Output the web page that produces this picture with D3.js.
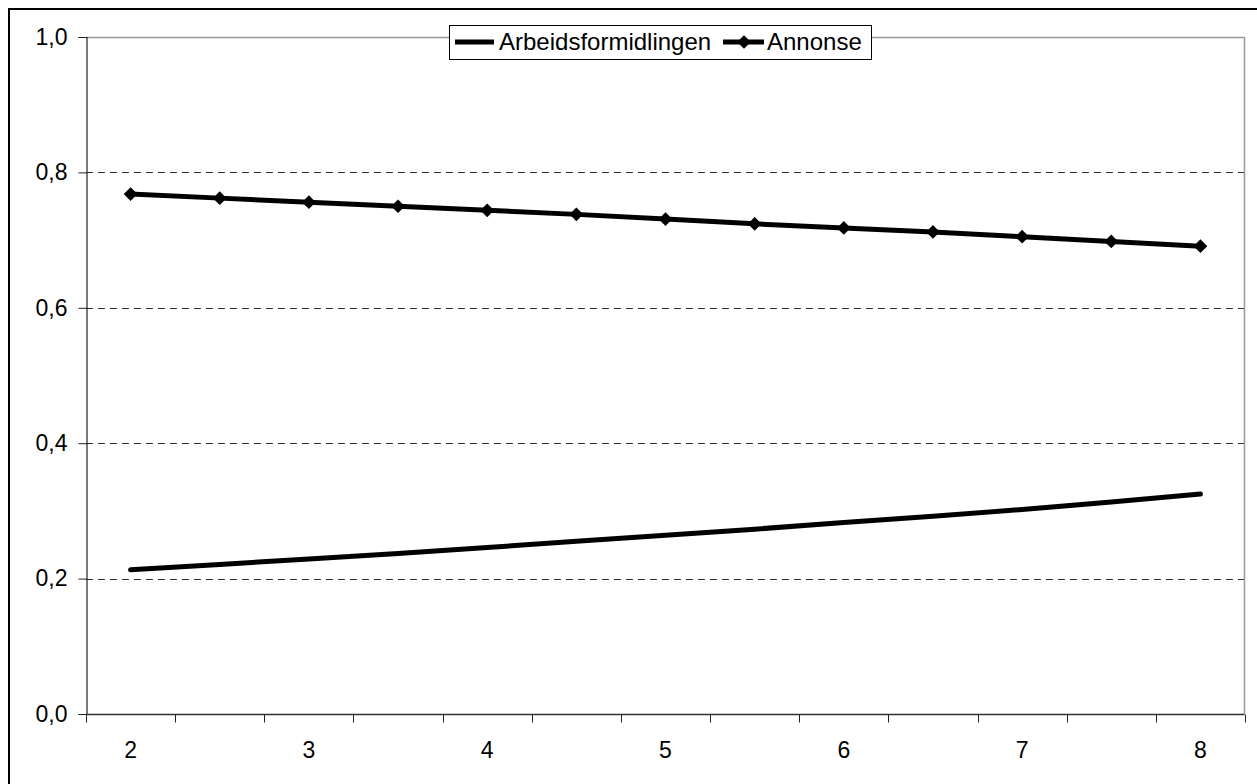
<!DOCTYPE html>
<html>
<head>
<meta charset="utf-8">
<script src="https://cdn.jsdelivr.net/npm/d3@7"></script>
<style>
  body { margin: 0; background: #fff; }
  svg { display: block; font-family: Arial, "Liberation Sans", sans-serif; }
</style>
</head>
<body>
<div id="chart-container"></div>
<script>
// values
const categories = [2, 2.5, 3, 3.5, 4, 4.5, 5, 5.5, 6, 6.5, 7, 7.5, 8];
const arbeidsformidlingen = [0.213, 0.221, 0.229, 0.237, 0.246, 0.255, 0.264, 0.273, 0.283, 0.292, 0.302, 0.313, 0.325];
const annonse = [0.768, 0.762, 0.756, 0.750, 0.744, 0.738, 0.731, 0.724, 0.718, 0.712, 0.705, 0.698, 0.691];
const yTicks = [0, 0.2, 0.4, 0.6, 0.8, 1.0];
const xLabels = [2, 3, 4, 5, 6, 7, 8];
const seriesNames = ["Arbeidsformidlingen", "Annonse"];

const width = 1257, height = 784;
const margin = { top: 37, left: 86, right: 12, bottom: 70 };
const fontSize = 23;
const legendFont = 24;

const svg = d3.select("#chart-container").append("svg")
  .attr("width", width)
  .attr("height", height);

// outer chart frame (right/bottom edges fall outside the picture)
svg.append("rect")
  .attr("x", 9).attr("y", 9)
  .attr("width", width + 10).attr("height", height + 10)
  .attr("fill", "#fff")
  .attr("stroke", "#000")
  .attr("stroke-width", 2);

const x = d3.scaleBand()
  .domain(categories)
  .range([margin.left, width - margin.right])
  .padding(0);

const y = d3.scaleLinear()
  .domain([0, 1])
  .range([height - margin.bottom, margin.top]);

const fmt = d => d3.format(".1f")(d).replace(".", ",");

// grid lines
svg.append("g")
  .selectAll("line")
  .data(yTicks.filter(d => d > 0 && d < 1))
  .enter().append("line")
  .attr("x1", margin.left).attr("x2", width - margin.right)
  .attr("y1", d => Math.round(y(d)) + 0.5).attr("y2", d => Math.round(y(d)) + 0.5)
  .attr("stroke", "#333")
  .attr("stroke-dasharray", "7,5");

// plot area top/right border
const plotTop = Math.round(y(1)) + 0.5;
const plotRight = Math.round(width - margin.right) - 0.5;
svg.append("path")
  .attr("d", `M${margin.left},${plotTop}H${plotRight}V${y(0)}`)
  .attr("fill", "none")
  .attr("stroke", "#999")
  .attr("stroke-width", 1.5);

// y axis
const yAxis = svg.append("g")
  .attr("transform", `translate(${margin.left + 0.5},0)`)
  .call(d3.axisLeft(y).tickValues(yTicks).tickFormat(fmt).tickSize(8).tickPadding(11));
yAxis.select(".domain").attr("stroke", "#222").attr("stroke-width", 1.2);
yAxis.selectAll(".tick line").attr("stroke", "#222");
yAxis.selectAll("text")
  .attr("font-size", fontSize)
  .attr("font-family", "Arial, 'Liberation Sans', sans-serif")
  .attr("fill", "#000");

// x axis: ticks at category boundaries, labels at whole numbers
const xBase = Math.round(y(0)) + 0.5;
const gx = svg.append("g");
gx.append("line")
  .attr("x1", margin.left).attr("x2", plotRight)
  .attr("y1", xBase).attr("y2", xBase)
  .attr("stroke", "#333").attr("stroke-width", 1.5);
const bounds = categories.map(c => x(c)).concat([x.range()[1]]);
gx.selectAll(".xtick")
  .data(bounds)
  .enter().append("line")
  .attr("class", "xtick")
  .attr("x1", d => Math.round(d) + 0.5).attr("x2", d => Math.round(d) + 0.5)
  .attr("y1", xBase).attr("y2", xBase + 8)
  .attr("stroke", "#222");
gx.selectAll("text")
  .data(xLabels)
  .enter().append("text")
  .attr("x", d => x(d) + x.bandwidth() / 2)
  .attr("y", 758)
  .attr("text-anchor", "middle")
  .attr("font-size", fontSize)
  .attr("fill", "#000")
  .text(d => d);

// lines
const line = d3.line()
  .x((d, i) => x(categories[i]) + x.bandwidth() / 2)
  .y(d => y(d));

svg.append("path")
  .datum(arbeidsformidlingen)
  .attr("d", line)
  .attr("fill", "none")
  .attr("stroke", "#000")
  .attr("stroke-width", 5)
  .attr("stroke-linecap", "round")
  .attr("stroke-linejoin", "round");

svg.append("path")
  .datum(annonse)
  .attr("d", line)
  .attr("fill", "none")
  .attr("stroke", "#000")
  .attr("stroke-width", 5)
  .attr("stroke-linejoin", "round");

const diamond = d3.symbol().type(d3.symbolDiamond2).size(120);
svg.append("g")
  .selectAll("path")
  .data(annonse)
  .enter().append("path")
  .attr("d", diamond)
  .attr("transform", (d, i) => `translate(${x(categories[i]) + x.bandwidth() / 2},${y(d)})`)
  .attr("fill", "#000");

// legend
const lg = svg.append("g");
lg.append("rect")
  .attr("x", 449.5).attr("y", 25.5)
  .attr("width", 422).attr("height", 34)
  .attr("fill", "#fff")
  .attr("stroke", "#000");
const ly = 42;
lg.append("line")
  .attr("x1", 455).attr("x2", 494).attr("y1", ly).attr("y2", ly)
  .attr("stroke", "#000").attr("stroke-width", 5);
lg.append("text")
  .attr("x", 499).attr("y", ly).attr("dy", "0.35em")
  .attr("font-size", legendFont)
  .text(seriesNames[0]);
lg.append("line")
  .attr("x1", 723).attr("x2", 764).attr("y1", ly).attr("y2", ly)
  .attr("stroke", "#000").attr("stroke-width", 5);
lg.append("path")
  .attr("d", diamond)
  .attr("transform", `translate(744,${ly})`)
  .attr("fill", "#000");
lg.append("text")
  .attr("x", 767).attr("y", ly).attr("dy", "0.35em")
  .attr("font-size", legendFont)
  .text(seriesNames[1]);
</script>
</body>
</html>
